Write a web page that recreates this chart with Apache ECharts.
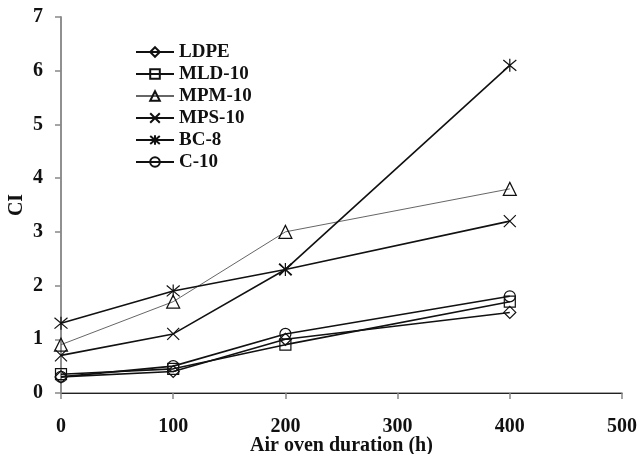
<!DOCTYPE html>
<html>
<head>
<meta charset="utf-8">
<script src="https://cdn.jsdelivr.net/npm/echarts@6/dist/echarts.min.js"></script>
<style>
  html, body { margin: 0; padding: 0; background: #fff; }
  #chart { width: 639px; height: 454px; }
</style>
</head>
<body>
<div id="chart"></div>
<script>
// 数据
const durations = [0, 100, 200, 400]
const seriesNames = ['LDPE', 'MLD-10', 'MPM-10', 'MPS-10', 'BC-8', 'C-10']
const ldpe = [0.3, 0.4, 1.0, 1.5]
const mld10 = [0.35, 0.45, 0.9, 1.7]
const mpm10 = [0.9, 1.7, 3.0, 3.8]
const mps10 = [0.7, 1.1, 2.3, 3.2]
const bc8 = [1.3, 1.9, 2.3, 6.1]
const c10 = [0.3, 0.5, 1.1, 1.8]

const FONT = '"Liberation Serif", "DejaVu Serif", serif'
const crossPath = 'path://M0,0L10,10M10,0L0,10'
const starPath = 'path://M0,1L10,11M10,1L0,11M5,0L5,12'

const toPoints = vals => vals.map((v, i) => [durations[i], v])

// 单条曲线
const makeSeries = (name, vals, symbol, opts = {}) => ({
  name,
  type: 'line',
  data: toPoints(vals),
  symbol,
  symbolSize: opts.size || 11,
  showSymbol: true,
  lineStyle: { color: opts.lineColor || '#111', width: opts.width || 1.6 },
  itemStyle: { color: 'rgba(255,255,255,0)', borderColor: '#111', borderWidth: 1.2 },
  emphasis: { disabled: true },
  z: opts.z || 2
})

const chart = echarts.init(document.getElementById('chart'))

chart.setOption({
  animation: false,
  backgroundColor: '#fff',
  grid: { left: 61, right: 17, top: 17, bottom: 61, outerBoundsMode: 'none', containLabel: false },
  legend: {
    orient: 'vertical',
    left: 135,
    top: 42,
    padding: 0,
    itemWidth: 38,
    itemHeight: 12,
    itemGap: 2,
    data: seriesNames,
    textStyle: {
      fontFamily: FONT,
      fontWeight: 'bold',
      fontSize: 19,
      lineHeight: 20,
      color: '#111'
    }
  },
  xAxis: [
    {
      type: 'value',
      min: 0,
      max: 500,
      interval: 100,
      name: 'Air oven duration (h)',
      nameLocation: 'middle',
      nameGap: 43,
      nameMoveOverlap: false,
      nameTextStyle: { fontFamily: FONT, fontWeight: 'bold', fontSize: 20, color: '#111' },
      axisLine: { lineStyle: { color: '#888', width: 1.5 } },
      axisTick: { show: true, length: 6, lineStyle: { color: '#888', width: 1.5 } },
      axisLabel: { margin: 24, fontFamily: FONT, fontWeight: 'bold', fontSize: 20, color: '#111' },
      splitLine: { show: false }
    },
    {
      type: 'value',
      position: 'top',
      min: 0,
      max: 500,
      axisLine: { show: true, lineStyle: { color: '#222', width: 1.2 } },
      axisTick: { show: false },
      axisLabel: { show: false },
      splitLine: { show: false }
    }
  ],
  yAxis: [
    {
      type: 'value',
      min: 0,
      max: 7,
      interval: 1,
      name: 'CI',
      nameLocation: 'middle',
      nameGap: 34,
      nameMoveOverlap: false,
      nameRotate: 90,
      nameTextStyle: { fontFamily: FONT, fontWeight: 'bold', fontSize: 20, color: '#111' },
      axisLine: { show: true, lineStyle: { color: '#888', width: 1.5 } },
      axisTick: { show: true, length: 6, lineStyle: { color: '#888', width: 1.5 } },
      axisLabel: { margin: 18, fontFamily: FONT, fontWeight: 'bold', fontSize: 20, color: '#111' },
      splitLine: { show: false }
    },
    {
      type: 'value',
      position: 'right',
      min: 0,
      max: 7,
      axisLine: { show: true, lineStyle: { color: '#888', width: 1.5 } },
      axisTick: { show: false },
      axisLabel: { show: false },
      splitLine: { show: false }
    }
  ],
  series: [
    makeSeries('LDPE', ldpe, 'diamond', { size: 12 }),
    makeSeries('MLD-10', mld10, 'rect', { size: 11 }),
    makeSeries('MPM-10', mpm10, 'triangle', { size: 13, lineColor: '#666', width: 1 }),
    makeSeries('MPS-10', mps10, crossPath, { size: 12 }),
    makeSeries('BC-8', bc8, starPath, { size: 13 }),
    makeSeries('C-10', c10, 'circle', { size: 11 })
  ]
})
</script>
</body>
</html>
